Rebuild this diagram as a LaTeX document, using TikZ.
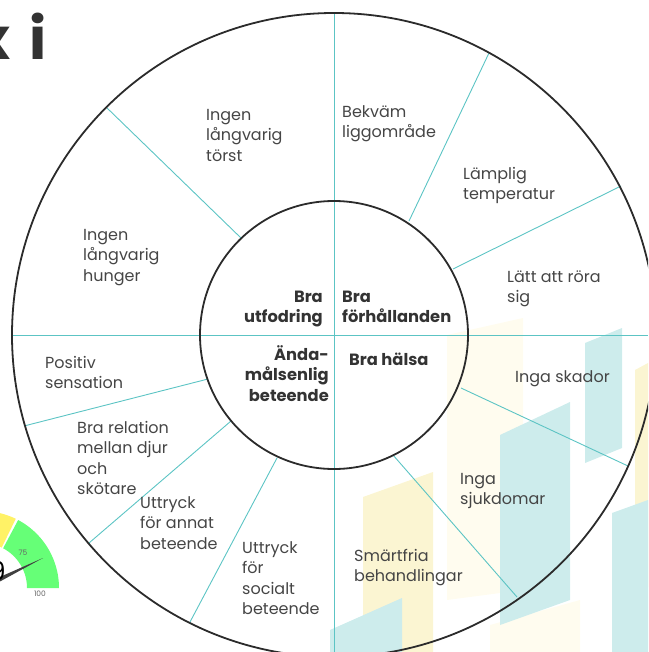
\documentclass[tikz,border=0pt]{standalone}
\usepackage{fontspec}
\setmainfont{Poppins}
\usetikzlibrary{calc}
\definecolor{circ}{HTML}{2B2B2B}
\definecolor{spokecol}{HTML}{5CC4C4}
\definecolor{txt}{HTML}{454545}
\definecolor{btxt}{HTML}{333333}
\definecolor{bgyel}{HTML}{FBF5D2}
\definecolor{bgyelf}{HTML}{FFFCEF}
\definecolor{bgteal}{HTML}{CDECEC}
\definecolor{gyel}{HTML}{FFF266}
\definecolor{ggreen}{HTML}{66FF77}
\newcommand\mlL[1]{\vtop{\halign{##\hfil\cr#1\crcr}}}
\newcommand\mlR[1]{\vtop{\halign{\hfil##\cr#1\crcr}}}
\begin{document}
\begin{tikzpicture}[x=1pt,y=-1pt,
  lbl/.style={font=\fontsize{16}{20.3}\selectfont, text=txt, inner sep=0pt, anchor=base west},
  blbl/.style={font=\fontsize{16.3}{20.3}\selectfont\bfseries, text=btxt, inner sep=0pt},
  spoke/.style={draw=spokecol, line width=0.9pt},
  ring/.style={draw=circ, line width=1.8pt},
  axisline/.style={draw=spokecol, line width=0.9pt}]
\useasboundingbox (0,0) rectangle (648,652);
\begin{scope}
\clip (0,0) rectangle (648,652);
% background decoration
\fill[bgyelf] (447,335) -- (523,318) -- (523,590) -- (447,600) -- cycle;
\fill[bgyelf] (490,625) -- (580,600) -- (580,652) -- (490,652) -- cycle;
\fill[bgyel] (363,497) -- (433,472) -- (433,652) -- (363,652) -- cycle;
\fill[bgteal] (500,435) -- (570,402) -- (570,600) -- (500,625) -- cycle;
\fill[bgteal] (585,343) -- (622,328) -- (622,448) -- (585,463) -- cycle;
\fill[bgyel] (635,370) -- (648,363) -- (648,587) -- (635,590) -- cycle;
\fill[bgteal] (612,513) -- (648,500) -- (648,652) -- (612,652) -- cycle;
\fill[bgteal] (330,630) -- (402,598) -- (402,652) -- (330,652) -- cycle;
% gauge
\fill[gyel] plot[domain=64:120, samples=30] ({-18+77*cos(\x)}, {588-77*sin(\x)})
  -- plot[domain=120:64, samples=30] ({-18+45*cos(\x)}, {588-45*sin(\x)}) -- cycle;
\fill[ggreen] plot[domain=0:62, samples=30] ({-18+77*cos(\x)}, {588-77*sin(\x)})
  -- plot[domain=62:0, samples=30] ({-18+45*cos(\x)}, {588-45*sin(\x)}) -- cycle;
\node[font=\fontsize{7.5}{9}\selectfont, text=black!60] (g75) at (23,553) {75};
\node[font=\fontsize{7.5}{9}\selectfont, text=black!60] (g100) at (40,594) {100};
\coordinate (gc) at (-18,588);
\coordinate (gtip) at (43,558);
\fill[black!75] ($(gc)+(1.3,2.6)$) -- (gtip) -- ($(gc)+(-1.3,-2.6)$) -- cycle;
\node[font=\fontsize{26}{30}\selectfont, text=black, inner sep=0pt, anchor=base east] (gval) at (6,580) {9};
% title fragment
\node[font=\fontsize{58}{60}\selectfont\bfseries, text=btxt, inner sep=0pt, anchor=base east] (tx) at (11,60) {x};
\node[font=\fontsize{58}{60}\selectfont\bfseries, text=btxt, inner sep=0pt, anchor=base west] (ti) at (29,60) {i};
\end{scope}
% axes
\coordinate (O) at (334,335);
\coordinate (ax1) at (334,13);
\coordinate (ax2) at (334,652);
\coordinate (ax3) at (12,335);
\coordinate (ax4) at (648,335);
\draw[axisline] (ax1) -- (ax2);
\draw[axisline] (ax3) -- (ax4);
% spokes
\coordinate (s1i) at (241,238); \coordinate (s1o) at (106,107);
\coordinate (s2i) at (409,221); \coordinate (s2o) at (489,53);
\coordinate (s3i) at (453,269); \coordinate (s3o) at (621,186);
\coordinate (s4i) at (461,388); \coordinate (s4o) at (628,466);
\coordinate (s5i) at (393,455); \coordinate (s5o) at (517,597);
\coordinate (s6i) at (208,379); \coordinate (s6o) at (24,426);
\coordinate (s7i) at (231,421); \coordinate (s7o) at (89,543);
\coordinate (s8i) at (277,458); \coordinate (s8o) at (190,622);
\foreach \i in {1,...,8} {\draw[spoke] (s\i i) -- (s\i o);}
% circles
\begin{scope}
\clip (0,0) rectangle (648,652);
\draw[ring] (O) circle[radius=322pt];
\end{scope}
\draw[ring] (O) circle[radius=134pt];
% outer labels
\node[lbl] (l1) at (206,120.5) {\mlL{Ingen\cr långvarig\cr törst}};
\node[lbl] (l2) at (83,240.5) {\mlL{Ingen\cr långvarig\cr hunger}};
\node[lbl] (l3) at (342,117.5) {\mlL{Bekväm\cr liggområde}};
\node[lbl] (l4) at (463,179.5) {\mlL{Lämplig\cr temperatur}};
\node[lbl] (l5) at (507,282.5) {\mlL{Lätt att röra\cr sig}};
\node[lbl] (l6) at (515,382.5) {Inga skador};
\node[lbl] (l7) at (460,484.5) {\mlL{Inga\cr sjukdomar}};
\node[lbl] (l8) at (354,561.5) {\mlL{Smärtfria\cr behandlingar}};
\node[lbl] (l9) at (45,368.5) {\mlL{Positiv\cr sensation}};
\node[lbl] (l10) at (77,433.5) {\mlL{Bra relation\cr mellan djur\cr och\cr skötare}};
\node[lbl] (l11) at (140,508.5) {\mlL{Uttryck\cr för annat\cr beteende}};
\node[lbl] (l12) at (242,553.5) {\mlL{Uttryck\cr för\cr socialt\cr beteende}};
% inner labels
\node[blbl, anchor=base east] (c1) at (323,302.5) {\mlR{Bra\cr utfodring}};
\node[blbl, anchor=base west] (c2) at (342,302.5) {\mlL{Bra\cr förhållanden}};
\node[blbl, anchor=base east] (c3) at (329,360.5) {\mlR{Ända-\cr målsenlig\cr beteende}};
\node[blbl, anchor=base west] (c4) at (349,365.5) {Bra hälsa};
\end{tikzpicture}
\end{document}
